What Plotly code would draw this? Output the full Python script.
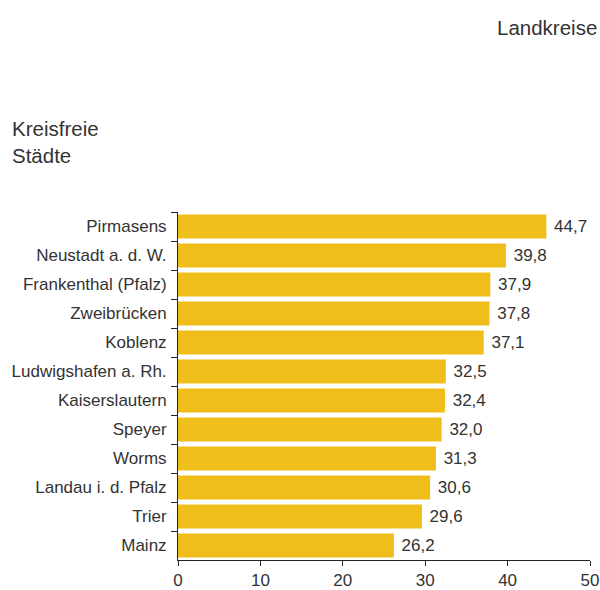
import plotly.graph_objects as go

cities = ["Pirmasens", "Neustadt a. d. W.", "Frankenthal (Pfalz)", "Zweibrücken", "Koblenz",
          "Ludwigshafen a. Rh.", "Kaiserslautern", "Speyer", "Worms", "Landau i. d. Pfalz",
          "Trier", "Mainz"]
values = [44.7, 39.8, 37.9, 37.8, 37.1, 32.5, 32.4, 32.0, 31.3, 30.6, 29.6, 26.2]
labels = ["\u00a0" + f"{v:.1f}".replace(".", ",") for v in values]
x_ticks = [0, 10, 20, 30, 40, 50]

font = "Liberation Sans, Arial, sans-serif"
txt = "#333333"
fs = 17

fig = go.Figure(go.Bar(
    x=values, y=cities, orientation="h",
    marker=dict(color="#F0BE1B", line=dict(width=0)),
    text=labels, textposition="outside", cliponaxis=False,
    textfont=dict(family=font, size=fs, color=txt),
    width=0.83,
))

fig.update_layout(
    width=600, height=590,
    margin=dict(l=178, r=10, t=212, b=30, autoexpand=False),
    paper_bgcolor="white", plot_bgcolor="white",
    showlegend=False,
    font=dict(family=font, size=fs, color=txt),
    xaxis=dict(range=[0, 50], tickvals=x_ticks, ticks="outside", ticklen=5,
               tickcolor="#222", showline=True, linecolor="#222", linewidth=1,
               showgrid=False, zeroline=False, fixedrange=True,
               tickfont=dict(size=fs, color=txt)),
    yaxis=dict(autorange="reversed", ticks="outside", tickson="boundaries", ticklen=6,
               ticklabelstandoff=7,
               tickcolor="#222", showline=True, linecolor="#222", linewidth=1,
               showgrid=False, tickfont=dict(size=fs, color=txt)),
    annotations=[
        dict(text="Landkreise", xref="paper", yref="paper", x=1.0, y=1.0,
             xshift=9, yshift=185, xanchor="right", yanchor="middle", showarrow=False,
             font=dict(family=font, size=20.5, color=txt)),
        dict(text="Kreisfreie<br>Städte", xref="paper", yref="paper", x=0, y=1.0,
             xshift=-168, yshift=70, xanchor="left", yanchor="middle", align="left",
             showarrow=False, font=dict(family=font, size=20.5, color=txt)),
    ],
)

fig.write_html("out.html", config={"displayModeBar": False},
               post_script="document.body.style.margin='0';")
